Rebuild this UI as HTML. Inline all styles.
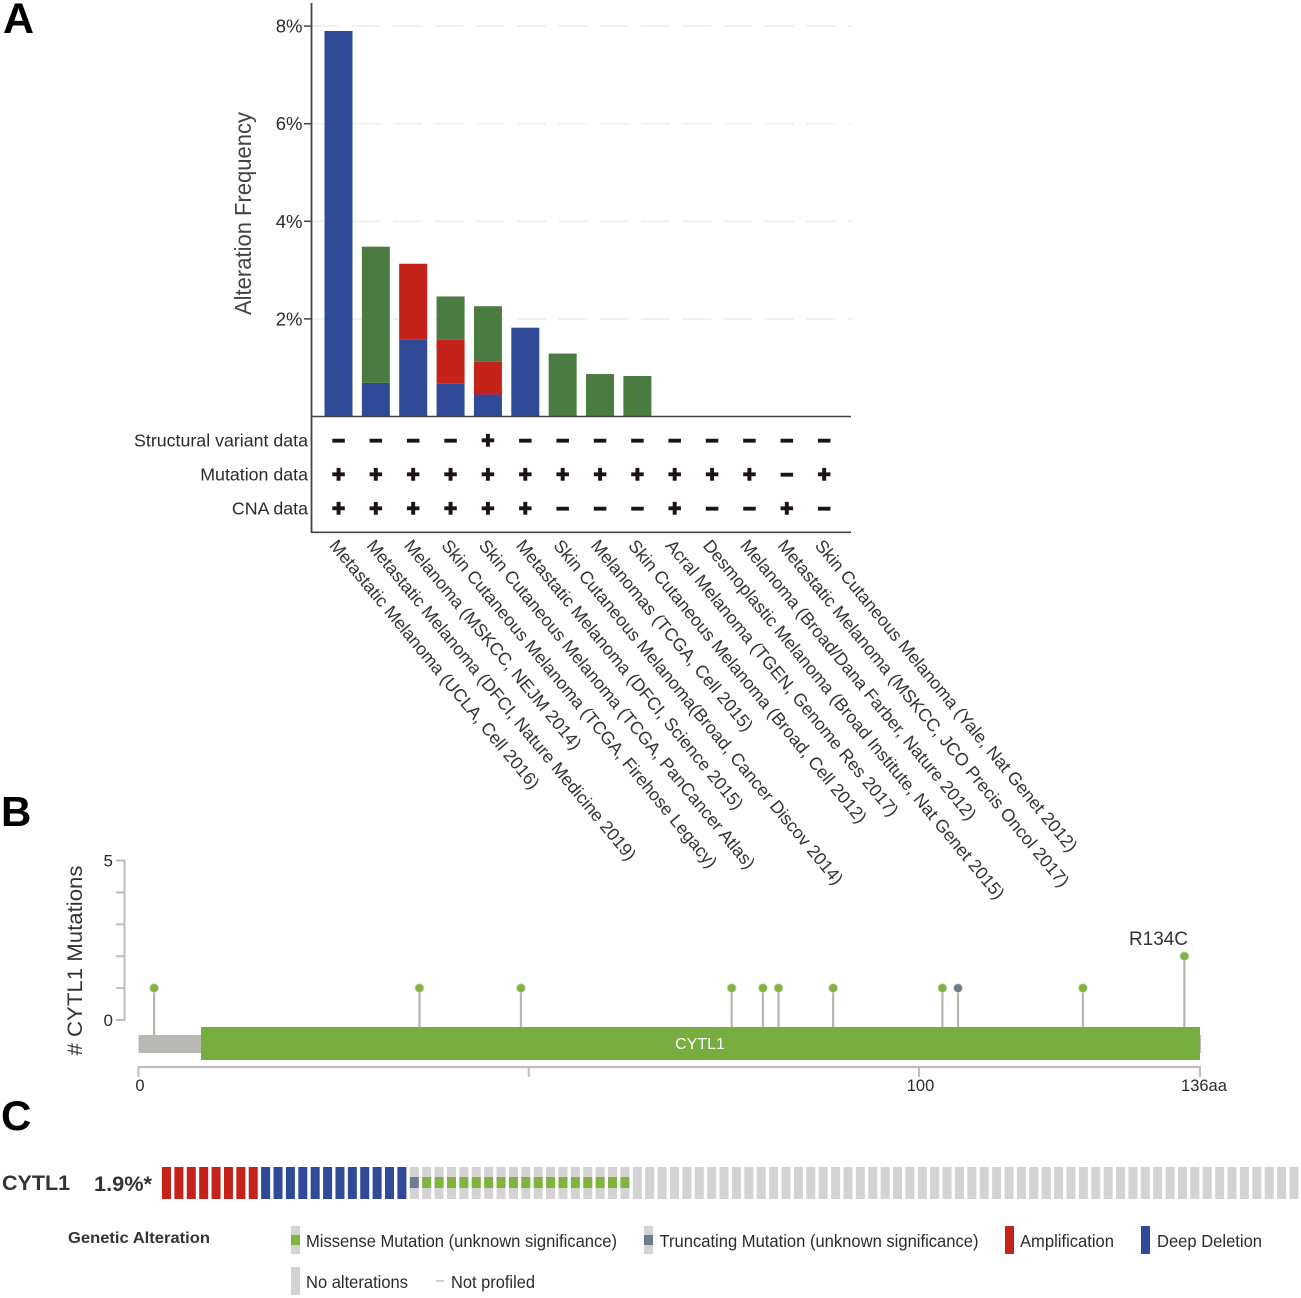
<!DOCTYPE html>
<html lang="en">
<head>
<meta charset="utf-8">
<title>CYTL1 alterations in melanoma</title>
<style>
html,body{margin:0;padding:0;background:#fff;}
svg{display:block;filter:blur(0.3px);}
text{font-family:"Liberation Sans",sans-serif;fill:#2b2b2b;}
</style>
</head>
<body>
<svg id="fig" xmlns="http://www.w3.org/2000/svg" width="1301" height="1298" viewBox="0 0 1301 1298">
  <text x="3" y="33" font-size="43" font-weight="bold" style="fill:#000">A</text>
  <text x="1" y="826" font-size="42" font-weight="bold" style="fill:#000">B</text>
  <text x="1" y="1130" font-size="42" font-weight="bold" style="fill:#000">C</text>

  <g id="panelA">
    <g id="gridA"></g>
    <g id="barsA"></g>
    <line x1="311.5" y1="3" x2="311.5" y2="533" stroke="#444" stroke-width="1.8"/>
    <line x1="311" y1="416.5" x2="851" y2="416.5" stroke="#444" stroke-width="1.6"/>
    <line x1="311" y1="532.3" x2="851" y2="532.3" stroke="#444" stroke-width="1.6"/>
    <g id="ticksA"></g>
    <text transform="translate(251,213.500) rotate(-90)" text-anchor="middle" font-size="23" textLength="203" lengthAdjust="spacingAndGlyphs" style="fill:#444">Alteration Frequency</text>
    <g id="profileA"></g>
    <g id="labelsA"></g>
  </g>

  <g id="panelB">
    <line x1="124.500" y1="860" x2="124.500" y2="1021" stroke="#bdbdbd" stroke-width="2"/>
    <g id="ticksB"></g>
    <text transform="translate(82,960.500) rotate(-90)" text-anchor="middle" font-size="21" textLength="190" lengthAdjust="spacingAndGlyphs" style="fill:#333"># CYTL1 Mutations</text>
    <g id="stems"></g>
    <rect x="138.500" y="1035" width="1062.500" height="18" fill="#babab4"/>
    <rect x="201" y="1027" width="999" height="33" fill="#76ad3e"/>
    <text x="700" y="1049" text-anchor="middle" font-size="16" style="fill:#fff">CYTL1</text>
    <text x="1129" y="945" font-size="19" textLength="59" lengthAdjust="spacingAndGlyphs" style="fill:#333">R134C</text>
    <line x1="138" y1="1067" x2="1201" y2="1067" stroke="#bdbdbd" stroke-width="2.200"/>
    <g id="ticksX"></g>
  </g>

  <g id="panelC">
    <text x="2" y="1190" font-size="21.500" font-weight="bold" style="fill:#333">CYTL1</text>
    <text x="94" y="1191" font-size="21" font-weight="bold" textLength="58" lengthAdjust="spacingAndGlyphs" style="fill:#333">1.9%*</text>
    <g id="cells"></g>
    <g>
      <text x="68" y="1243" font-size="16" font-weight="bold" textLength="142" lengthAdjust="spacingAndGlyphs" style="fill:#333">Genetic Alteration</text>

      <g>
        <rect x="291" y="1226" width="9" height="28" fill="#d3d3d3"/>
        <rect x="291" y="1235" width="9" height="10" fill="#80b33f"/>
        <text x="306" y="1247" font-size="17.500" textLength="311" lengthAdjust="spacingAndGlyphs">Missense Mutation (unknown significance)</text>
      </g>
      <g>
        <rect x="644" y="1226" width="9" height="28" fill="#d3d3d3"/>
        <rect x="644" y="1235" width="9" height="10" fill="#6c7c8c"/>
        <text x="659.500" y="1247" font-size="17.500" textLength="319" lengthAdjust="spacingAndGlyphs">Truncating Mutation (unknown significance)</text>
      </g>
      <g>
        <rect x="1005" y="1226" width="9" height="28" fill="#c5221c"/>
        <text x="1020" y="1247" font-size="17.500" textLength="94" lengthAdjust="spacingAndGlyphs">Amplification</text>
      </g>
      <g>
        <rect x="1141" y="1226" width="9" height="28" fill="#314a97"/>
        <text x="1157" y="1247" font-size="17.500" textLength="105" lengthAdjust="spacingAndGlyphs">Deep Deletion</text>
      </g>
      <g>
        <rect x="291" y="1267" width="9" height="28" fill="#d3d3d3"/>
        <text x="306" y="1288" font-size="17.500" textLength="102" lengthAdjust="spacingAndGlyphs">No alterations</text>
      </g>
      <g>
        <rect x="436" y="1280" width="8" height="2" fill="#d3d3d3"/>
        <text x="451" y="1288" font-size="17.500" textLength="84" lengthAdjust="spacingAndGlyphs">Not profiled</text>
      </g>
    </g>
  </g>
</svg>
<script>
const studies = [
  'Metastatic Melanoma (UCLA, Cell 2016)',
  'Metastatic Melanoma (DFCI, Nature Medicine 2019)',
  'Melanoma (MSKCC, NEJM 2014)',
  'Skin Cutaneous Melanoma (TCGA, Firehose Legacy)',
  'Skin Cutaneous Melanoma (TCGA, PanCancer Atlas)',
  'Metastatic Melanoma (DFCI, Science 2015)',
  'Skin Cutaneous Melanoma(Broad, Cancer Discov 2014)',
  'Melanomas (TCGA, Cell 2015)',
  'Skin Cutaneous Melanoma (Broad, Cell 2012)',
  'Acral Melanoma (TGEN, Genome Res 2017)',
  'Desmoplastic Melanoma (Broad Institute, Nat Genet 2015)',
  'Melanoma (Broad/Dana Farber, Nature 2012)',
  'Metastatic Melanoma (MSKCC, JCO Precis Oncol 2017)',
  'Skin Cutaneous Melanoma (Yale, Nat Genet 2012)'
];
const deepDeletion  = [7.9, 0.69, 1.57, 0.67, 0.45, 1.82, 0, 0, 0, 0, 0, 0, 0, 0];
const amplification = [0, 0, 1.56, 0.90, 0.67, 0, 0, 0, 0, 0, 0, 0, 0, 0];
const mutation      = [0, 2.79, 0, 0.89, 1.14, 0, 1.29, 0.87, 0.83, 0, 0, 0, 0, 0];
const yTicksA = [2, 4, 6, 8];
const profileRows = ['Structural variant data', 'Mutation data', 'CNA data'];
const structuralProfile = '----+---------';
const mutationProfile   = '++++++++++++-+';
const cnaProfile        = '++++++---+--+-';

const lolliPositions = [2, 36, 49, 76, 80, 82, 89, 103, 105, 121, 134];
const lolliCounts    = [1, 1, 1, 1, 1, 1, 1, 1, 1, 1, 2];
const lolliTypes     = ['missense','missense','missense','missense','missense','missense','missense','missense','truncating','missense','missense'];
const yTicksB = [0, 1, 2, 3, 4, 5];
const yTickLabelsB = ['0', '', '', '', '', '5'];
const xTicksB = [0, 50, 100, 136];
const xTickLabelsB = ['0', '', '100', '136aa'];

const oncoGroups = ['amplification', 'deepDeletion', 'truncating', 'missense', 'none'];
const oncoCounts = [8, 12, 1, 17, 54];

const SVGNS = 'http://www.w3.org/2000/svg';
function make(tag, parentId, attrs, content) {
  const node = document.createElementNS(SVGNS, tag);
  for (const k in attrs) node.setAttribute(k, attrs[k]);
  if (content !== undefined) node.textContent = content;
  document.getElementById(parentId).appendChild(node);
  return node;
}
function yA(v) { return 416.5 - 48.8 * v; }
function xA(i) { return 324.5 + 37.36 * i; }
function yB(c) { return 1020 - 31.9 * c; }
function xB(aa) { return 138.5 + 7.805 * aa; }
function xC(i) { return 162 + 12.39 * i; }

const COLORS = { deep: '#314a97', amp: '#c5221c', mut: '#4a7b40' };

yTicksA.forEach(function (t) {
  for (let gx = 310.6; gx < 851; gx += 41.3) {
    const dash = make('rect', 'gridA', { x: gx, y: yA(t) - 0.9, width: Math.min(29, 852 - gx), height: 1.8, fill: '#efefef' });
    
    
  }
  const tick = make('line', 'ticksA', { x1: 304, x2: 311, y1: yA(t), y2: yA(t), stroke: '#444', 'stroke-width': 1.5 });
  
  
  const lab = make('text', 'ticksA', { x: 302.5, y: yA(t) + 6.5, 'text-anchor': 'end', 'font-size': 18.5 }, t + '%');
  
  
});

studies.forEach(function (name, i) {
  const segments = [[deepDeletion[i], COLORS.deep, 'deep-deletion'], [amplification[i], COLORS.amp, 'amplification'], [mutation[i], COLORS.mut, 'mutation']];
  let base = 0;
  segments.forEach(function (s) {
    if (s[0] > 0) {
      const bar = make('rect', 'barsA', { x: xA(i), y: yA(base + s[0]), width: 28, height: yA(base) - yA(base + s[0]), fill: s[1] });
      
      
    }
    base += s[0];
  });
  const label = make('text', 'labelsA', { transform: 'translate(' + (xA(i) + 4) + ',546) rotate(50.3)', 'font-size': 17.75, style: 'fill:#333' }, name);
  
  
});

const profileData = [structuralProfile, mutationProfile, cnaProfile];
profileRows.forEach(function (row, r) {
  const rowY = 440.5 + 34 * r;
  const rowLabel = make('text', 'profileA', { x: 308, y: rowY + 6, 'text-anchor': 'end', 'font-size': 17.8 }, row);
  
  
  studies.forEach(function (s, i) {
    const sym = profileData[r][i] === '+' ? '+' : '\u2212';
    const mark = make('text', 'profileA', { x: xA(i) + 14, y: rowY + 7.5, 'text-anchor': 'middle', 'font-size': 22, 'font-weight': 'bold', stroke: '#1d1512', 'stroke-width': 1.5, style: 'fill:#1d1512' }, sym);
    
    
  });
});

yTicksB.forEach(function (t, i) {
  const tick = make('line', 'ticksB', { x1: 116, x2: 124.5, y1: yB(t), y2: yB(t), stroke: '#bdbdbd', 'stroke-width': 2 });
  
  
  if (yTickLabelsB[i]) {
    const lab = make('text', 'ticksB', { x: 113, y: yB(t) + 6, 'text-anchor': 'end', 'font-size': 17 }, yTickLabelsB[i]);
    
    
  }
});

xTicksB.forEach(function (t, i) {
  const tick = make('line', 'ticksX', { x1: xB(t), x2: xB(t), y1: 1067, y2: 1077, stroke: '#bdbdbd', 'stroke-width': 2 });
  
  
  if (xTickLabelsB[i]) {
    const anchorX = t === 136 ? xB(t) + 4 : xB(t) + 1.5;
    const lab = make('text', 'ticksX', { x: anchorX, y: 1091, 'text-anchor': 'middle', 'font-size': 16.5 }, xTickLabelsB[i]);
    
    
  }
});

lolliPositions.forEach(function (aa, i) {
  const cy = yB(lolliCounts[i]);
  const stem = make('line', 'stems', { x1: xB(aa), x2: xB(aa), y1: cy, y2: 1036, stroke: '#b5b5ad', 'stroke-width': 2.2 });
  
  
  const head = make('circle', 'stems', { cx: xB(aa), cy: cy, r: 4.4, fill: lolliTypes[i] === 'truncating' ? '#6c7c8c' : '#82b342', stroke: '#c8d8b4', 'stroke-width': 0.8 });
  
  
});

let cellIndex = 0;
oncoGroups.forEach(function (group, g) {
  for (let n = 0; n < oncoCounts[g]; n++) {
    const x = xC(cellIndex);
    const bgFill = group === 'amplification' ? '#c5221c' : group === 'deepDeletion' ? '#314a97' : '#d3d3d3';
    const cell = make('rect', 'cells', { x: x, y: 1167, width: 9, height: 32, fill: bgFill });
    
    
    if (group === 'missense' || group === 'truncating') {
      const inner = make('rect', 'cells', { x: x, y: 1177, width: 9, height: 11, fill: group === 'missense' ? '#80b33f' : '#6c7c8c' });
      
      
    }
    cellIndex++;
  }
});
</script>
</body>
</html>
